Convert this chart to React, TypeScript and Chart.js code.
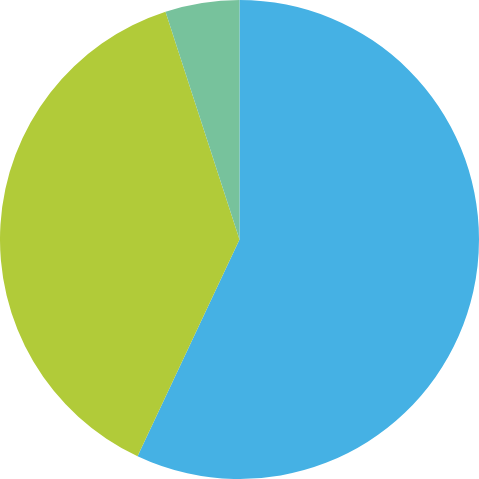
import { useEffect, useRef } from 'react'
import { Chart, registerables } from 'chart.js'

Chart.register(...registerables)

// ─── Data ──────────────────────────────────────────────────────────────────
const labels = ['Blue', 'Green', 'Teal']
const values = [57, 38, 5]
const colors = ['#45b1e4', '#b1cb39', '#77c29c']

export default function App() {
  const canvasRef = useRef<HTMLCanvasElement>(null)

  useEffect(() => {
    document.body.style.margin = '0'
    const canvas = canvasRef.current
    if (!canvas) return
    const chart = new Chart(canvas, {
      type: 'pie',
      data: {
        labels,
        datasets: [
          {
            data: values,
            backgroundColor: colors,
            borderWidth: 0,
          },
        ],
      },
      options: {
        animation: false,
        responsive: true,
        maintainAspectRatio: false,
        layout: { padding: 0 },
        plugins: {
          legend: { display: false },
          tooltip: { enabled: false },
        },
      },
    })
    return () => chart.destroy()
  }, [])

  return (
    <div style={{ position: 'relative', width: 479, height: 479 }}>
      <canvas ref={canvasRef} />
    </div>
  )
}
